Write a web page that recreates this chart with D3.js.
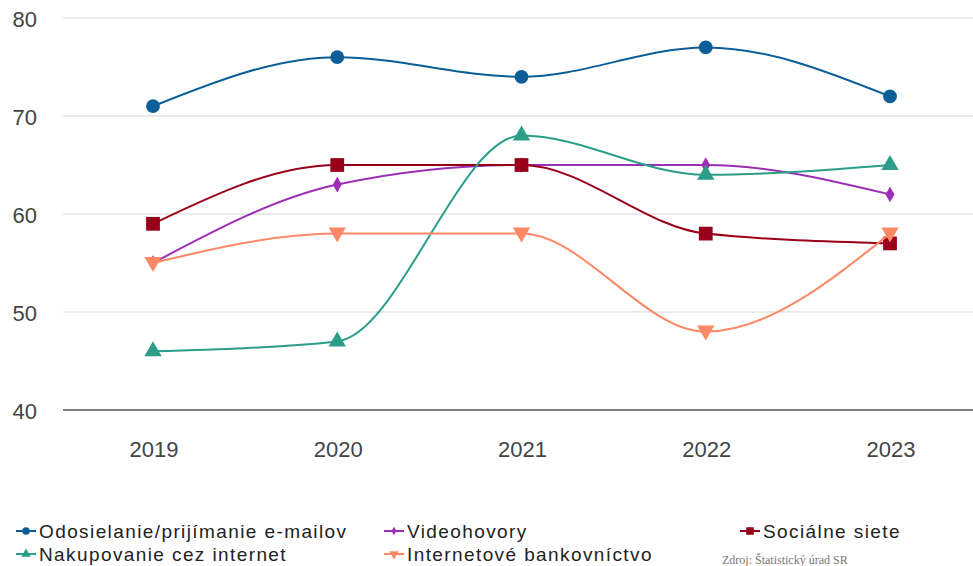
<!DOCTYPE html>
<html>
<head>
<meta charset="utf-8">
<script src="https://cdn.jsdelivr.net/npm/d3@7"></script>
<style>
  body { margin: 0; background: #fff; }
  svg { display: block; }
</style>
</head>
<body>
<svg id="chart"></svg>
<script>
var width = 973, height = 566;

// data
var years = ['2019', '2020', '2021', '2022', '2023'];
var seriesNames = ['Odosielanie/prijímanie e-mailov', 'Videohovory', 'Sociálne siete',
    'Nakupovanie cez internet', 'Internetové bankovníctvo'];
var emailValues = [71, 76, 74, 77, 72];
var videoValues = [55, 63, 65, 65, 62];
var socialValues = [59, 65, 65, 58, 57];
var shoppingValues = [46, 47, 68, 64, 65];
var bankingValues = [55, 58, 58, 48, 58];
var yTicks = [40, 50, 60, 70, 80];
var sourceText = 'Zdroj: Štatistický úrad SR';

var colors = ['#0c5e99', '#9b2fb6', '#980019', '#2c9d88', '#ff8866'];
var symbols = [d3.symbolCircle, d3.symbolDiamond, d3.symbolSquare, d3.symbolTriangle, d3.symbolTriangle];
var symbolSizes = [150, 70, 190, 130, 130];
var symbolRot = [0, 0, 0, 0, 180];

var series = [emailValues, videoValues, socialValues, shoppingValues, bankingValues].map(function (v, i) {
    return { name: seriesNames[i], values: v, color: colors[i], symbol: symbols[i], size: symbolSizes[i], rot: symbolRot[i] };
});

var svg = d3.select('#chart').attr('width', width).attr('height', height);

var x = d3.scalePoint().domain(years).range([153, 890]);
var y = d3.scaleLinear().domain([40, 80]).range([410, 18]);

// grid
svg.append('g').selectAll('line')
    .data(yTicks.filter(function (d) { return d > 40; }))
    .enter().append('line')
    .attr('x1', 63).attr('x2', width)
    .attr('y1', function (d) { return y(d); })
    .attr('y2', function (d) { return y(d); })
    .attr('stroke', '#e3e3e3').attr('stroke-width', 1.5);

svg.append('line')
    .attr('x1', 63).attr('x2', width)
    .attr('y1', y(40)).attr('y2', y(40))
    .attr('stroke', '#555').attr('stroke-width', 1.5);

// y labels
svg.append('g').selectAll('text')
    .data(yTicks)
    .enter().append('text')
    .attr('x', 37)
    .attr('y', function (d) { return y(d) + 9; })
    .attr('text-anchor', 'end')
    .attr('font-family', 'Liberation Sans, Arial, sans-serif')
    .attr('font-size', 22)
    .attr('fill', '#444')
    .text(function (d) { return d; });

// x labels
svg.append('g').selectAll('text')
    .data(years)
    .enter().append('text')
    .attr('x', function (d) { return x(d) + 1; })
    .attr('y', 457)
    .attr('text-anchor', 'middle')
    .attr('font-family', 'Liberation Sans, Arial, sans-serif')
    .attr('font-size', 22)
    .attr('fill', '#444')
    .text(function (d) { return d; });

var line = d3.line()
    .x(function (d, i) { return x(years[i]); })
    .y(function (d) { return y(d); })
    .curve(d3.curveMonotoneX);

var groups = svg.append('g').selectAll('g')
    .data(series)
    .enter().append('g');

groups.append('path')
    .attr('d', function (d) { return line(d.values); })
    .attr('fill', 'none')
    .attr('stroke', function (d) { return d.color; })
    .attr('stroke-width', 2);

groups.each(function (s) {
    d3.select(this).selectAll('path.marker')
        .data(s.values)
        .enter().append('path')
        .attr('class', 'marker')
        .attr('d', d3.symbol().type(s.symbol).size(s.size))
        .attr('transform', function (d, i) {
            var yy = y(d) + (s.rot ? -1 : 0);
            return 'translate(' + x(years[i]) + ',' + yy + ') rotate(' + s.rot + ')';
        })
        .attr('fill', s.color);
});

// legend
var legendPos = [[16, 531], [384, 531], [740, 531], [16, 554], [384, 554]];
var legend = svg.append('g').selectAll('g')
    .data(series)
    .enter().append('g')
    .attr('transform', function (d, i) { return 'translate(' + legendPos[i][0] + ',' + legendPos[i][1] + ')'; });

legend.append('line')
    .attr('x1', 0).attr('x2', 20)
    .attr('stroke', function (d) { return d.color; })
    .attr('stroke-width', 2);

legend.append('path')
    .attr('d', function (d) { return d3.symbol().type(d.symbol).size(d.size * 0.3)(); })
    .attr('transform', function (d) { return 'translate(10,0) rotate(' + d.rot + ')'; })
    .attr('fill', function (d) { return d.color; });

legend.append('text')
    .attr('x', 23)
    .attr('y', 7)
    .attr('font-family', 'Liberation Sans, Arial, sans-serif')
    .attr('font-size', 19)
    .attr('letter-spacing', 1.4)
    .attr('fill', '#222')
    .text(function (d) { return d.name; });

// source note in the bottom right corner
svg.append('text')
    .attr('x', 722)
    .attr('y', 564)
    .attr('font-family', 'Liberation Serif, serif')
    .attr('font-size', 12)
    .attr('fill', '#777')
    .text(sourceText);
</script>
</body>
</html>
